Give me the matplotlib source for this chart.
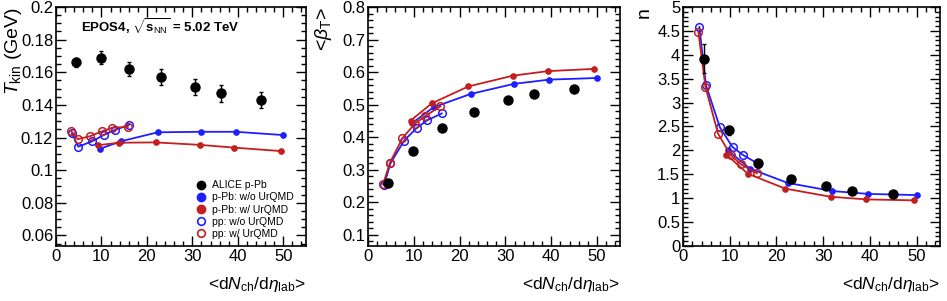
import matplotlib
matplotlib.use("Agg")
import matplotlib.pyplot as plt
from matplotlib.lines import Line2D
from matplotlib.ticker import MultipleLocator, FormatStrFormatter

plt.rcParams["font.family"] = ["Liberation Sans", "DejaVu Sans"]
plt.rcParams["mathtext.fontset"] = "custom"
plt.rcParams["mathtext.rm"] = "Liberation Sans"
plt.rcParams["mathtext.it"] = "Liberation Sans:italic"
plt.rcParams["mathtext.bf"] = "Liberation Sans:bold"

BLUE = "#1e1eff"
RED = "#c41e1e"

# ALICE p-Pb data
alice_x = [4.4, 9.8, 16.1, 23.2, 30.5, 36.2, 45.0]
alice_tkin = [0.166, 0.169, 0.162, 0.157, 0.151, 0.147, 0.143]
alice_tkin_err = [0.003, 0.004, 0.004, 0.005, 0.005, 0.005, 0.005]
alice_beta = [0.258, 0.359, 0.429, 0.479, 0.513, 0.532, 0.547]
alice_beta_err = [0.003, 0.003, 0.003, 0.003, 0.003, 0.003, 0.004]
alice_n = [3.92, 2.42, 1.74, 1.41, 1.25, 1.15, 1.08]
alice_n_err = [0.30, 0.10, 0.06, 0.05, 0.04, 0.04, 0.03]

# EPOS4 p-Pb
ppb_x_wo = [9.6, 14.3, 22.4, 31.9, 39.6, 50.0]
ppb_x_w = [9.3, 13.9, 21.9, 31.6, 39.2, 49.4]
ppb_tkin_wo = [0.113, 0.1177, 0.1232, 0.1235, 0.1235, 0.1215]
ppb_tkin_w = [0.1153, 0.1168, 0.117, 0.1155, 0.1138, 0.1117]
ppb_beta_wo = [0.443, 0.492, 0.533, 0.564, 0.577, 0.582]
ppb_beta_w = [0.451, 0.504, 0.556, 0.589, 0.603, 0.610]
ppb_n_wo = [2.00, 1.62, 1.32, 1.15, 1.09, 1.065]
ppb_n_w = [1.91, 1.51, 1.20, 1.03, 0.975, 0.955]

# EPOS4 pp
pp_x_wo = [3.5, 4.9, 7.9, 10.6, 12.9, 16.1]
pp_x_w = [3.3, 4.8, 7.5, 10.2, 12.4, 15.8]
pp_tkin_wo = [0.1226, 0.1144, 0.1176, 0.1217, 0.1245, 0.1279]
pp_tkin_w = [0.1241, 0.119, 0.1208, 0.1239, 0.126, 0.1265]
pp_beta_wo = [0.253, 0.320, 0.390, 0.428, 0.452, 0.473]
pp_beta_w = [0.256, 0.322, 0.397, 0.441, 0.464, 0.495]
pp_n_wo = [4.58, 3.37, 2.48, 2.07, 1.90, 1.72]
pp_n_w = [4.47, 3.33, 2.35, 1.90, 1.71, 1.52]

panels = [
    dict(alice=alice_tkin, err=alice_tkin_err, ppb_wo=ppb_tkin_wo, ppb_w=ppb_tkin_w,
         pp_wo=pp_tkin_wo, pp_w=pp_tkin_w, ylim=(0.0535, 0.2), major=0.02, minor=0.005,
         ylabel=r"$T_{\rm kin}$ (GeV)", ylab_x=-0.17,
         pos=[56 / 947, 55 / 301, 250 / 947, 239 / 301]),
    dict(alice=alice_beta, err=alice_beta_err, ppb_wo=ppb_beta_wo, ppb_w=ppb_beta_w,
         pp_wo=pp_beta_wo, pp_w=pp_beta_w, ylim=(0.066, 0.8), major=0.1, minor=0.02,
         ylabel=r"<$\beta_{\rm T}$>", ylab_x=-0.175,
         pos=[368 / 947, 55 / 301, 252 / 947, 239 / 301]),
    dict(alice=alice_n, err=alice_n_err, ppb_wo=ppb_n_wo, ppb_w=ppb_n_w,
         pp_wo=pp_n_wo, pp_w=pp_n_w, ylim=(0, 5), major=0.5, minor=0.1,
         ylabel="n", ylab_x=-0.15,
         pos=[683 / 947, 55 / 301, 257 / 947, 239 / 301]),
]

fig = plt.figure(figsize=(9.47, 3.01), dpi=100)

for i, p in enumerate(panels):
    ax = fig.add_axes(p["pos"])
    ax.plot(ppb_x_wo, p["ppb_wo"], "-o", color=BLUE, ms=3.8, lw=1.3, zorder=3)
    ax.plot(ppb_x_w, p["ppb_w"], "-o", color=RED, ms=3.8, lw=1.3, zorder=3)
    ax.plot(pp_x_wo, p["pp_wo"], "-o", color=BLUE, mfc="none", ms=5.5, mew=1.1, lw=1.3, zorder=3)
    ax.plot(pp_x_w, p["pp_w"], "-o", color=RED, mfc="none", ms=5.5, mew=1.1, lw=1.3, zorder=3)
    ax.errorbar(alice_x, p["alice"], yerr=p["err"], fmt="o", color="black", ms=6.5,
                elinewidth=1.0, capsize=1.5, zorder=4)

    ax.set_xlim(0, 55)
    ax.set_ylim(*p["ylim"])
    ax.xaxis.set_major_locator(MultipleLocator(10))
    ax.xaxis.set_minor_locator(MultipleLocator(2))
    ax.yaxis.set_major_locator(MultipleLocator(p["major"]))
    ax.yaxis.set_minor_locator(MultipleLocator(p["minor"]))
    ax.yaxis.set_major_formatter(FormatStrFormatter("%g"))
    ax.tick_params(which="both", direction="in", top=True, right=True, labelsize=12, width=1.0)
    ax.tick_params(which="major", length=7, pad=2)
    ax.tick_params(which="minor", length=3.5)
    for s in ax.spines.values():
        s.set_linewidth(1.2)

    ax.text(p["ylab_x"], 1.0, p["ylabel"], transform=ax.transAxes, rotation=90,
            ha="center", va="top", fontsize=14)
    ax.text(1.0, -0.12, r"<d$N_{\rm ch}$/d$\eta_{\rm lab}$>", transform=ax.transAxes,
            ha="right", va="top", fontsize=12.5)

    if i == 0:
        ax.text(0.1, 0.915, r"EPOS4, $\mathbf{\sqrt{s_{\rm NN}}}$ = 5.02 TeV", transform=ax.transAxes,
                fontsize=9.5, fontweight="bold", va="center")
        handles = [
            Line2D([], [], ls="none", marker="o", color="black", ms=6),
            Line2D([], [], ls="none", marker="o", color=BLUE, ms=6),
            Line2D([], [], ls="none", marker="o", color=RED, ms=6),
            Line2D([], [], ls="none", marker="o", color=BLUE, mfc="none", mew=1.2, ms=5.5),
            Line2D([], [], ls="none", marker="o", color=RED, mfc="none", mew=1.2, ms=5.5),
        ]
        labels = ["ALICE p-Pb", "p-Pb: w/o UrQMD", "p-Pb: w/ UrQMD",
                  "pp: w/o UrQMD", "pp: w/ UrQMD"]
        ax.legend(handles, labels, loc="lower left", bbox_to_anchor=(0.53, 0.0),
                  frameon=False, fontsize=7.5, handlelength=1.0, handletextpad=0.6,
                  labelspacing=0.2, borderaxespad=0.3)

fig.savefig("out.png", dpi=100)
